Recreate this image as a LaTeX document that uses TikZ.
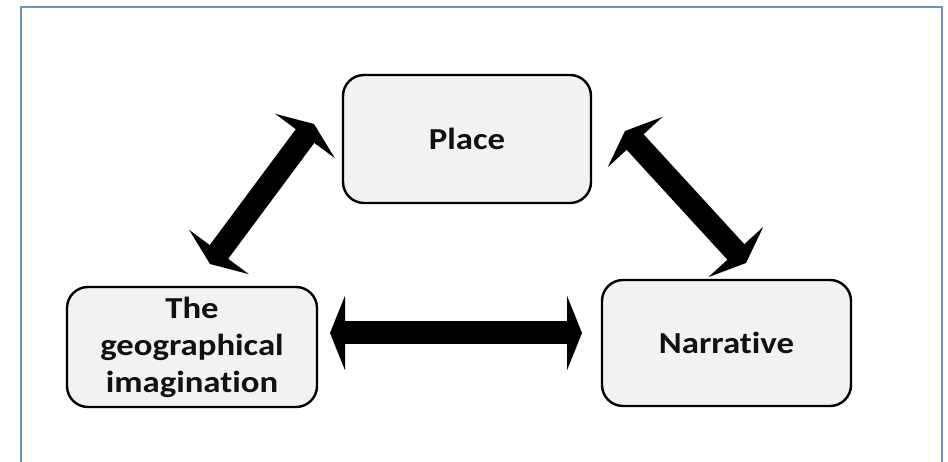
\documentclass[tikz,border=0pt]{standalone}
\usepackage{fontspec}
\setmainfont{Carlito}
\newfontfamily\labelfont[FakeStretch=1.14, Ligatures=NoCommon]{Carlito}
\usetikzlibrary{arrows.meta}
\definecolor{framecol}{HTML}{7193B8}
\definecolor{boxfill}{HTML}{F2F2F2}
\definecolor{textcol}{HTML}{111111}
\tikzset{
  frameline/.style={draw=framecol, line width=2pt},
  topic/.style={draw=black, fill=boxfill, line width=2.4pt, rounded corners=21pt,
    align=center, text=textcol,
    font=\labelfont\bfseries\fontsize{30.5}{37}\selectfont},
  twoway/.style={line width=23pt,
    {Triangle[length=15pt, width=74pt]}-{Triangle[length=15pt, width=74pt]}},
}
\begin{document}
\begin{tikzpicture}[x=1pt, y=-1pt]
  \useasboundingbox (0,0) rectangle (948,462);
  \clip (0,0) rectangle (948,462);
  % outer frame, open at the bottom
  \draw[frameline] (21,480) -- (21,7) -- (942,7) -- (942,480);

  % the three topics
  \node[topic, minimum width=248, minimum height=128] (place) at (467,139) {Place};
  \node[topic, minimum width=250, minimum height=120] (geo) at (192,347)
    {The\\geographical\\imagination};
  \node[topic, minimum width=249, minimum height=126] (narr) at (726.5,343) {Narrative};

  % arrow end points
  \coordinate (geoTop) at (210,264);
  \coordinate (placeLeft) at (314,124);
  \coordinate (placeRight) at (625,131);
  \coordinate (narrTop) at (746,263);
  \coordinate (geoRight) at (330,333);
  \coordinate (narrLeft) at (582,333);

  % two-way links
  \draw[twoway] (geoTop) -- (placeLeft);
  \draw[twoway] (placeRight) -- (narrTop);
  \draw[twoway] (geoRight) -- (narrLeft);
\end{tikzpicture}
\end{document}
